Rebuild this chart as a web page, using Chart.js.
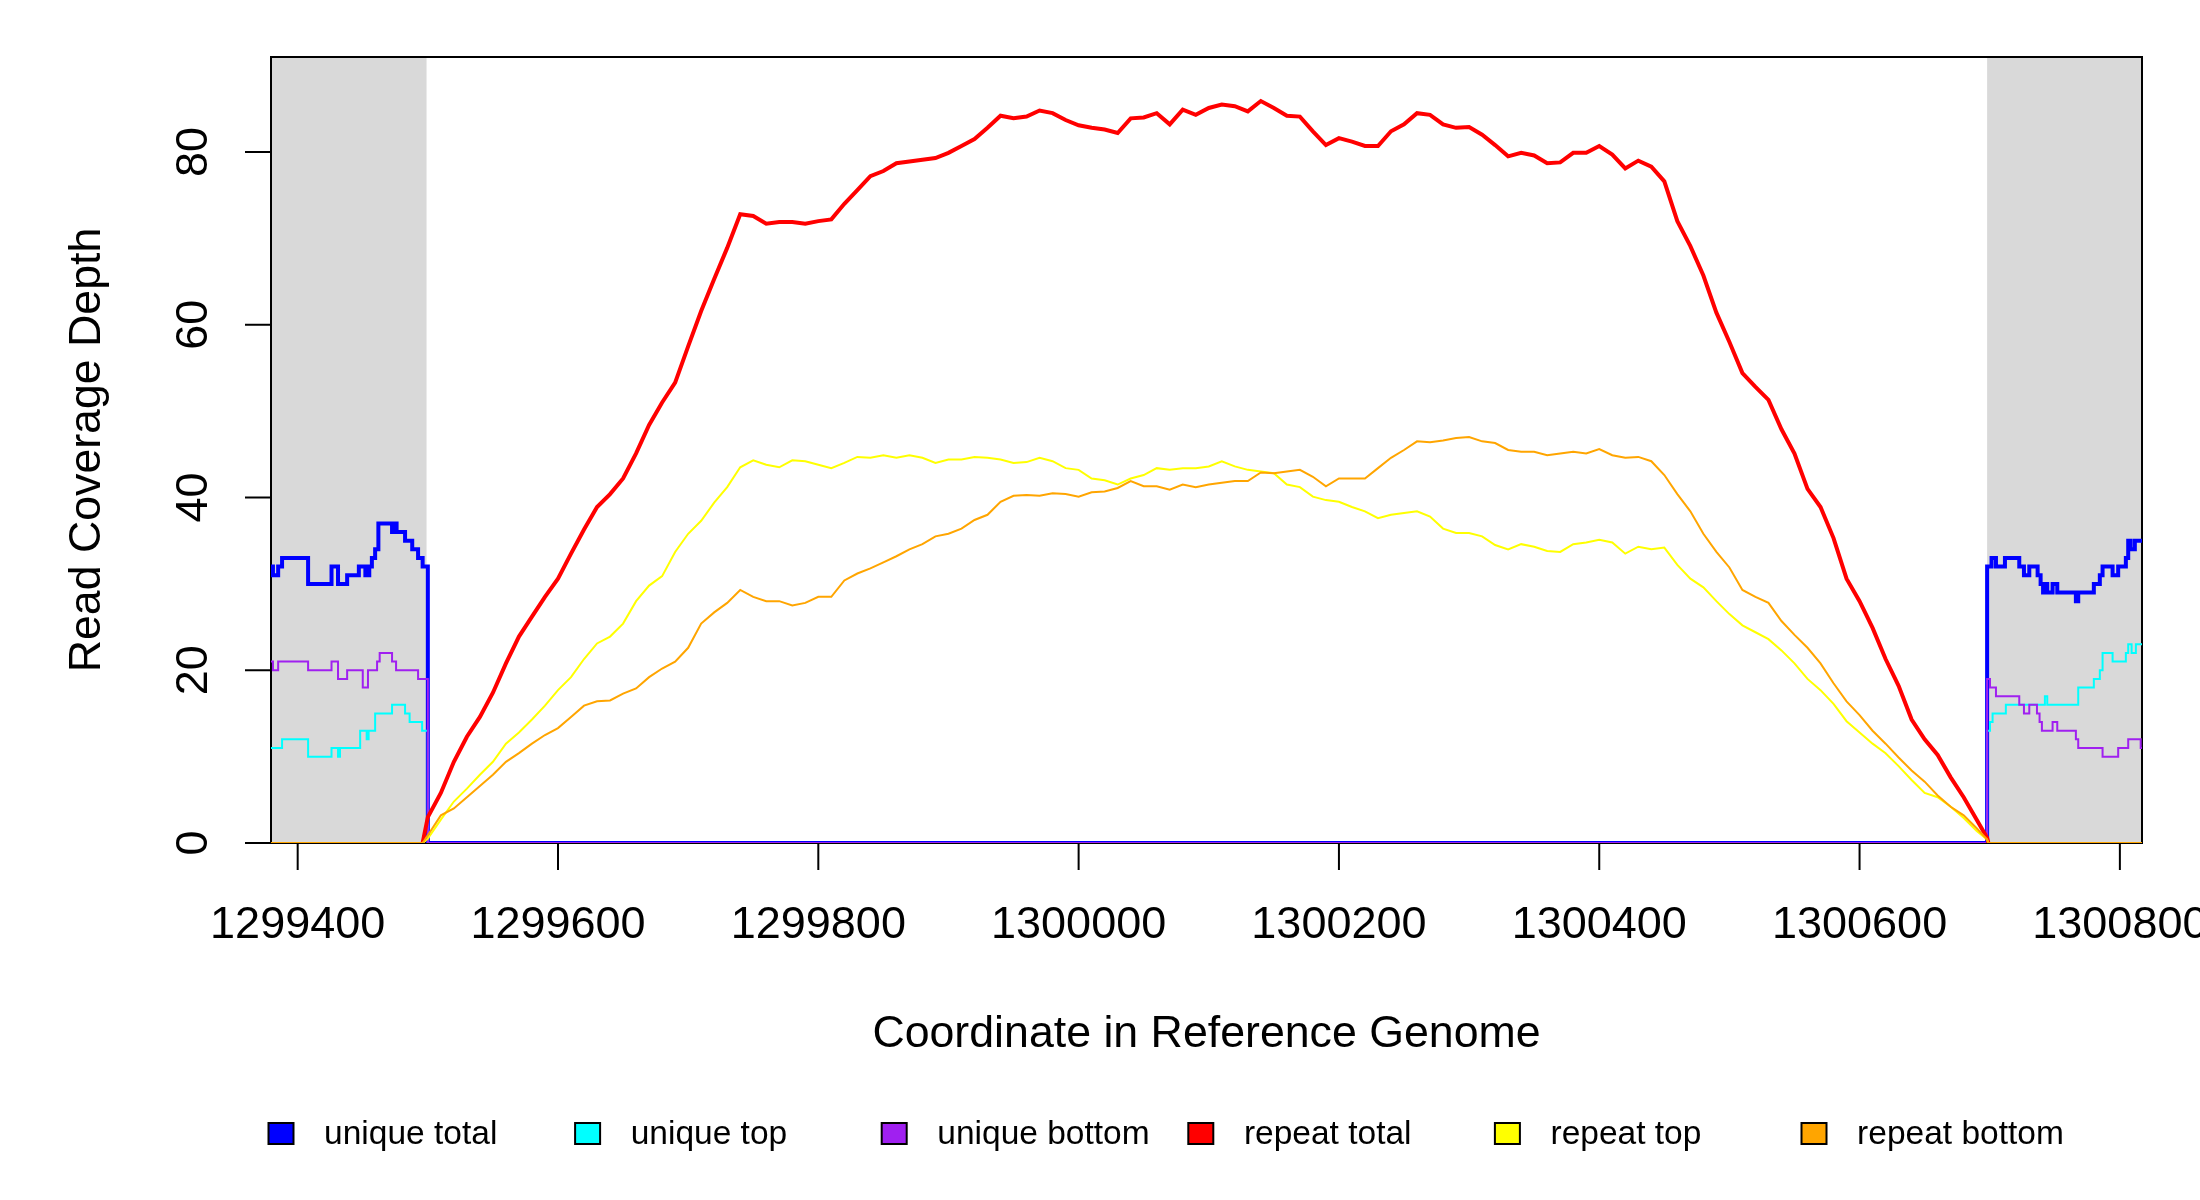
<!DOCTYPE html>
<html>
<head>
<meta charset="utf-8">
<script src="https://cdn.jsdelivr.net/npm/chart.js@4.4.1/dist/chart.umd.min.js"></script>
<style>
html,body{margin:0;padding:0;background:#ffffff;}
canvas{display:block;}
</style>
</head>
<body>
<canvas id="c" width="2200" height="1200" style="width:2200px;height:1200px"></canvas>
<script>
// ---------------- data ----------------
const xTicks = [1299400,1299600,1299800,1300000,1300200,1300400,1300600,1300800];
const yTicks = [0,20,40,60,80];
const xRange = [1299379.5, 1300817];
const yRange = [0, 91];
const shadedRegions = [[1299379.5,1299499],[1300698,1300817]];
const seriesNames = ['unique total','unique top','unique bottom','repeat total','repeat top','repeat bottom'];
const seriesColors = ['#0000FF','#00FFFF','#A020F0','#FF0000','#FFFF00','#FFA500'];
const xTitle = 'Coordinate in Reference Genome';
const yTitle = 'Read Coverage Depth';

// unique-read coverage (step changes)
const uniqueTotalX = [1299379.5,1299381,1299385,1299388,1299408,1299426,1299431,1299438,1299447,1299452,1299455,1299457,1299459.5,1299462,1299472.5,1299473.5,1299476,1299482.5,1299488,1299492.5,1299496,1299500,1300698,1300701.4,1300704.8,1300711.7,1300722.7,1300726.3,1300730.4,1300736.8,1300739.1,1300741,1300743,1300744.2,1300748.3,1300751.9,1300766.2,1300768,1300780,1300784.6,1300786.7,1300794.4,1300798.7,1300804.6,1300806.4,1300808.2,1300811.5,1300817];
const uniqueTotalY = [32,31,32,33,30,32,30,31,32,31,32,33,34,37,36,37,36,35,34,33,32,0,32,33,32,33,32,31,32,31,30,29,30,29,30,29,28,29,30,31,32,31,32,33,35,34,35,35];

const uniqueTopX = [1299379.5,1299388,1299408,1299426,1299431,1299432.5,1299448,1299453,1299454.5,1299459.5,1299472.5,1299482.5,1299486,1299495.6,1299500,1300698,1300700.2,1300702.2,1300712.4,1300742.4,1300744.2,1300768,1300780,1300784.6,1300786.7,1300794.4,1300804.6,1300806.4,1300809,1300812.3,1300817];
const uniqueTopY = [11,12,10,11,10,11,13,12,13,15,16,15,14,13,0,13,14,15,16,17,16,18,19,20,22,21,22,23,22,23,23];

const uniqueBottomX = [1299379.5,1299381,1299385,1299408,1299426,1299431,1299438,1299450,1299454,1299461,1299463,1299472.5,1299475.6,1299492.5,1299500,1300698,1300700.2,1300704.8,1300722.7,1300726.3,1300730.4,1300736.3,1300738.3,1300740.1,1300748.3,1300751.9,1300766.2,1300768,1300786.7,1300798.7,1300806.4,1300816,1300817];
const uniqueBottomY = [21,20,21,20,21,19,20,18,20,21,22,21,20,19,0,19,18,17,16,15,16,15,14,13,14,13,12,11,10,11,12,11,11];

// repeat-read coverage (sampled positions)
const repeatX = [1299379.5,1299496,
 1299500,1299510,1299520,1299530,1299540,1299550,1299560,1299570,1299580,1299590,
 1299600,1299610,1299620,1299630,1299640,1299650,1299660,1299670,1299680,1299690,
 1299700,1299710,1299720,1299730,1299740,1299750,1299760,1299770,1299780,1299790,
 1299800,1299810,1299820,1299830,1299840,1299850,1299860,1299870,1299880,1299890,
 1299900,1299910,1299920,1299930,1299940,1299950,1299960,1299970,1299980,1299990,
 1300000,1300010,1300020,1300030,1300040,1300050,1300060,1300070,1300080,1300090,
 1300100,1300110,1300120,1300130,1300140,1300150,1300160,1300170,1300180,1300190,
 1300200,1300210,1300220,1300230,1300240,1300250,1300260,1300270,1300280,1300290,
 1300300,1300310,1300320,1300330,1300340,1300350,1300360,1300370,1300380,1300390,
 1300400,1300410,1300420,1300430,1300440,1300450,1300460,1300470,1300480,1300490,
 1300500,1300510,1300520,1300530,1300540,1300550,1300560,1300570,1300580,1300590,
 1300600,1300610,1300620,1300630,1300640,1300650,1300660,1300670,1300680,1300690,
 1300698,1300699,1300817];

const repeatTotal = [null,0,
 3.0,5.8,9.4,12.3,14.6,17.4,20.8,23.9,26.2,28.5,
 30.6,33.5,36.3,38.9,40.4,42.2,45.1,48.4,51.0,53.3,
 57.5,61.6,65.3,68.9,72.8,72.6,71.7,71.9,71.9,71.7,
 72.0,72.2,74.0,75.6,77.2,77.8,78.7,78.9,79.1,79.3,
 79.9,80.7,81.5,82.8,84.2,83.9,84.1,84.8,84.5,83.7,
 83.1,82.8,82.6,82.2,83.9,84.0,84.5,83.2,84.9,84.3,
 85.1,85.5,85.3,84.7,85.9,85.1,84.2,84.1,82.4,80.8,
 81.6,81.2,80.7,80.7,82.4,83.2,84.5,84.3,83.2,82.8,
 82.9,82.0,80.8,79.5,79.9,79.6,78.7,78.8,79.9,79.9,
 80.7,79.7,78.1,79.0,78.3,76.6,72.0,69.1,65.7,61.4,
 58.0,54.4,52.8,51.3,47.9,45.1,41.0,38.9,35.3,30.6,
 28.0,24.9,21.3,18.2,14.3,12.0,10.2,7.6,5.3,2.7,
 0.6,0,null];

const repeatTop = [0,0,
 0.5,2.7,4.8,6.3,7.9,9.4,11.5,12.8,14.3,15.9,
 17.7,19.2,21.3,23.1,23.9,25.4,28.0,29.8,30.9,33.7,
 35.8,37.3,39.4,41.2,43.5,44.3,43.8,43.5,44.3,44.2,
 43.8,43.4,44.0,44.7,44.6,44.9,44.6,44.9,44.6,44.0,
 44.4,44.4,44.7,44.6,44.4,44.0,44.1,44.6,44.2,43.4,
 43.2,42.2,42.0,41.5,42.2,42.6,43.4,43.2,43.4,43.4,
 43.6,44.2,43.6,43.2,43.0,42.8,41.5,41.2,40.1,39.7,
 39.5,38.9,38.4,37.6,38.0,38.2,38.4,37.8,36.4,35.9,
 35.9,35.5,34.5,34.0,34.6,34.3,33.8,33.7,34.6,34.8,
 35.1,34.8,33.5,34.3,34.0,34.2,32.2,30.6,29.6,28.0,
 26.5,25.2,24.4,23.6,22.3,20.8,19.0,17.7,16.1,14.1,
 12.8,11.5,10.4,8.9,7.3,5.8,5.3,4.2,2.9,1.4,
 0.4,0,0];

const repeatBottom = [0,0,
 0.9,3.2,4.0,5.3,6.6,7.9,9.4,10.4,11.5,12.5,
 13.3,14.6,15.9,16.4,16.5,17.3,17.9,19.2,20.2,21.0,
 22.6,25.4,26.7,27.8,29.3,28.5,28.0,28.0,27.5,27.8,
 28.5,28.5,30.4,31.2,31.8,32.5,33.2,34.0,34.6,35.5,
 35.8,36.4,37.4,38.0,39.5,40.2,40.3,40.2,40.5,40.4,
 40.1,40.6,40.7,41.1,41.9,41.3,41.3,40.9,41.5,41.2,
 41.5,41.7,41.9,41.9,42.9,42.8,43.0,43.2,42.4,41.3,
 42.2,42.2,42.2,43.4,44.6,45.5,46.5,46.4,46.6,46.9,
 47.0,46.5,46.3,45.5,45.3,45.3,44.9,45.1,45.3,45.1,
 45.6,44.9,44.6,44.7,44.2,42.6,40.4,38.4,35.8,33.7,
 31.9,29.3,28.5,27.8,25.7,24.1,22.6,20.8,18.5,16.4,
 14.8,13.0,11.5,9.9,8.4,7.1,5.5,4.2,3.2,1.7,
 0.4,0,0];

// ---------------- chart ----------------
function pts(xs, ys){ return xs.map((x,i)=>({x:x, y:ys[i]})); }

const FONT = '"Liberation Sans", Arial, Helvetica, sans-serif';

const rFrame = {
  id: 'rFrame',
  beforeDatasetsDraw(chart){
    const {ctx, chartArea:a, scales:{x}} = chart;
    ctx.save();
    ctx.fillStyle = '#D9D9D9';
    shadedRegions.forEach(r=>{
      const x0 = x.getPixelForValue(r[0]), x1 = x.getPixelForValue(r[1]);
      ctx.fillRect(x0, a.top, x1-x0, a.bottom-a.top);
    });
    ctx.strokeStyle = '#000';
    ctx.lineWidth = 2;
    ctx.strokeRect(a.left, a.top, a.right-a.left, a.bottom-a.top);
    ctx.restore();
  },
  afterDraw(chart){
    const {ctx, chartArea:a, scales:{x,y}} = chart;
    ctx.save();
    ctx.strokeStyle = '#000';
    ctx.fillStyle = '#000';
    ctx.lineWidth = 2;
    ctx.font = '45px ' + FONT;
    // y axis ticks
    yTicks.forEach(v=>{
      const py = y.getPixelForValue(v);
      ctx.beginPath(); ctx.moveTo(a.left-26, py); ctx.lineTo(a.left, py); ctx.stroke();
      ctx.save();
      ctx.translate(a.left-64, py);
      ctx.rotate(-Math.PI/2);
      ctx.textAlign = 'center'; ctx.textBaseline = 'alphabetic';
      ctx.fillText(String(v), 0, 0);
      ctx.restore();
    });
    // x axis ticks
    ctx.textAlign = 'center'; ctx.textBaseline = 'alphabetic';
    xTicks.forEach(v=>{
      const px = x.getPixelForValue(v);
      ctx.beginPath(); ctx.moveTo(px, a.bottom); ctx.lineTo(px, a.bottom+27); ctx.stroke();
      ctx.fillText(String(v), px, a.bottom+95);
    });
    // titles
    ctx.font = '44.7px ' + FONT;
    ctx.fillText(xTitle, (a.left+a.right)/2, a.bottom+204);
    ctx.save();
    ctx.translate(a.left-171, (a.top+a.bottom)/2);
    ctx.rotate(-Math.PI/2);
    ctx.fillText(yTitle, 0, 0);
    ctx.restore();
    // legend
    ctx.font = '33.5px ' + FONT;
    ctx.textAlign = 'left';
    seriesNames.forEach((name,i)=>{
      const bx = 268.5 + i*306.6, by = 1123;
      ctx.fillStyle = seriesColors[i];
      ctx.fillRect(bx, by, 25, 21);
      ctx.strokeStyle = '#000'; ctx.lineWidth = 2;
      ctx.strokeRect(bx, by, 25, 21);
      ctx.fillStyle = '#000';
      ctx.fillText(name, bx+55.6, 1144);
    });
    ctx.restore();
  }
};

const widths = [4,2,2,4,2,2];
const seriesData = [
  pts(uniqueTotalX, uniqueTotalY),
  pts(uniqueTopX, uniqueTopY),
  pts(uniqueBottomX, uniqueBottomY),
  pts(repeatX, repeatTotal),
  pts(repeatX, repeatTop),
  pts(repeatX, repeatBottom)
];

new Chart(document.getElementById('c'), {
  type: 'line',
  data: {
    datasets: seriesNames.map((name,i)=>({
      label: name,
      data: seriesData[i],
      borderColor: seriesColors[i],
      backgroundColor: seriesColors[i],
      borderWidth: widths[i],
      stepped: i < 3 ? true : false,
      tension: 0,
      pointRadius: 0,
      pointHoverRadius: 0,
      fill: false,
      spanGaps: false,
      order: 6 - i
    }))
  },
  options: {
    responsive: false,
    devicePixelRatio: 1,
    animation: false,
    parsing: true,
    layout: { padding: { left: 271, right: 58, top: 57, bottom: 357 } },
    scales: {
      x: { type: 'linear', min: xRange[0], max: xRange[1], display: false },
      y: { type: 'linear', min: yRange[0], max: yRange[1], display: false }
    },
    plugins: { legend: { display: false }, tooltip: { enabled: false } },
    events: []
  },
  plugins: [rFrame]
});
</script>
</body>
</html>
